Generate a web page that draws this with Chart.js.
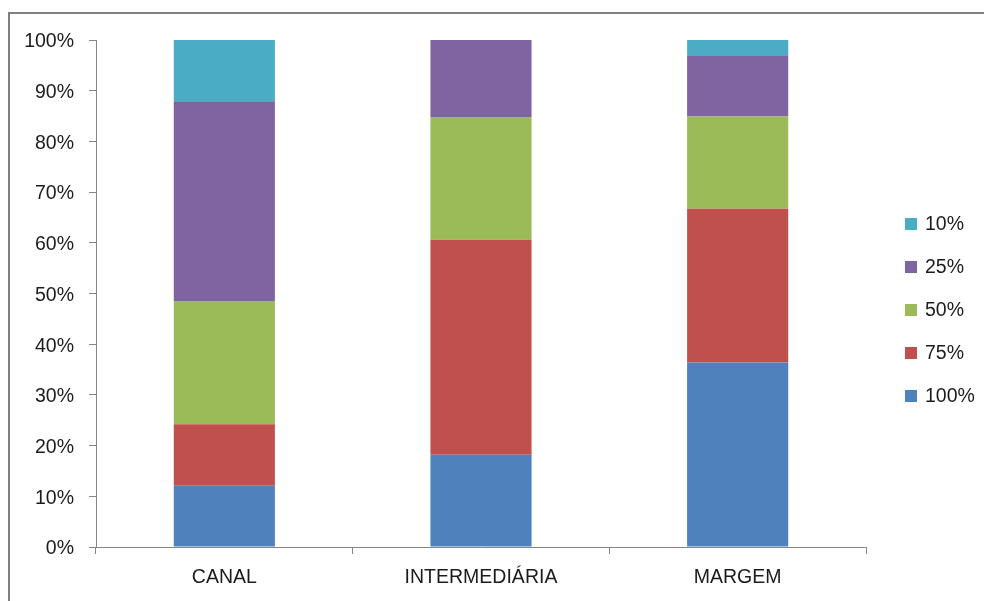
<!DOCTYPE html>
<html>
<head>
<meta charset="utf-8">
<script src="https://cdn.jsdelivr.net/npm/chart.js@4/dist/chart.umd.min.js"></script>
<style>
  html, body { margin: 0; padding: 0; background: #ffffff; }
  #wrap { width: 984px; height: 601px; }
</style>
</head>
<body>
<div id="wrap"><canvas id="chart" width="984" height="601"></canvas></div>
<script>
// Response shares (%) per item, stacked to 100%
const categories = ['CANAL', 'INTERMEDIÁRIA', 'MARGEM'];
const seriesNames = ['100%', '75%', '50%', '25%', '10%'];
const share100 = [12.1, 18.2, 36.4];
const share75  = [12.1, 42.4, 30.3];
const share50  = [24.3, 24.2, 18.2];
const share25  = [39.4, 15.2, 12.1];
const share10  = [12.1, 0.0, 3.0];
const yTicks = [0, 10, 20, 30, 40, 50, 60, 70, 80, 90, 100];

const seriesValues = [share100, share75, share50, share25, share10];
const seriesColors = ['#4F81BD', '#C0504D', '#9BBB59', '#8064A2', '#4BACC6'];

const FONT = "'Liberation Sans', Arial, sans-serif";
const FONT_SIZE = 19.5;
const TEXT = '#1c1c1c';
const AXIS = '#868686';

// Outer frame of the chart object
const framePlugin = {
  id: 'frame',
  beforeDraw(chart) {
    const ctx = chart.ctx;
    ctx.save();
    ctx.fillStyle = '#ffffff';
    ctx.fillRect(0, 0, chart.width, chart.height);
    ctx.strokeStyle = '#808080';
    ctx.lineWidth = 2;
    ctx.beginPath();
    ctx.moveTo(9, chart.height + 5);
    ctx.lineTo(9, 13);
    ctx.lineTo(chart.width + 5, 13);
    ctx.stroke();
    ctx.restore();
  }
};

// Legend on the right, top series first
const sideLegend = {
  id: 'sideLegend',
  afterDraw(chart) {
    const ctx = chart.ctx;
    const ds = chart.data.datasets;
    const n = ds.length;
    const gap = 43, midY = 310, boxX = 905, box = 12, textX = 925;
    ctx.save();
    ctx.font = FONT_SIZE + 'px ' + FONT;
    ctx.textBaseline = 'middle';
    ctx.textAlign = 'left';
    for (let k = 0; k < n; k++) {
      const d = ds[n - 1 - k];
      const cy = midY + (k - (n - 1) / 2) * gap;
      ctx.fillStyle = d.backgroundColor;
      ctx.fillRect(boxX, cy - box / 2, box, box);
      ctx.fillStyle = TEXT;
      ctx.fillText(d.label, textX, cy + 1);
    }
    ctx.restore();
  }
};

new Chart(document.getElementById('chart'), {
  type: 'bar',
  data: {
    labels: categories,
    datasets: seriesNames.map((name, i) => ({
      label: name,
      data: seriesValues[i],
      backgroundColor: seriesColors[i],
      borderWidth: 0,
      categoryPercentage: 1.0,
      barPercentage: 0.394
    }))
  },
  options: {
    responsive: false,
    animation: false,
    devicePixelRatio: 1,
    layout: { padding: { left: 10, top: 40, right: 118, bottom: 0 } },
    plugins: {
      legend: { display: false },
      tooltip: { enabled: false }
    },
    scales: {
      x: {
        stacked: true,
        border: { display: true, color: AXIS, width: 1 },
        grid: { display: true, drawOnChartArea: false, drawTicks: true, tickLength: 7, color: AXIS, offset: true },
        ticks: { color: TEXT, font: { family: FONT, size: FONT_SIZE }, padding: 12, maxRotation: 0 },
        afterFit(scale) { scale.height = 54; }
      },
      y: {
        stacked: true,
        min: 0,
        max: 100,
        border: { display: true, color: AXIS, width: 1 },
        grid: { display: true, drawOnChartArea: false, drawTicks: true, tickLength: 7, color: AXIS },
        afterBuildTicks(scale) { scale.ticks = yTicks.map(v => ({ value: v })); },
        ticks: {
          color: TEXT,
          font: { family: FONT, size: FONT_SIZE },
          padding: 15,
          labelOffset: 2,
          callback: v => v + '%'
        },
        afterFit(scale) { scale.width = 86; }
      }
    }
  },
  plugins: [framePlugin, sideLegend]
});
</script>
</body>
</html>
